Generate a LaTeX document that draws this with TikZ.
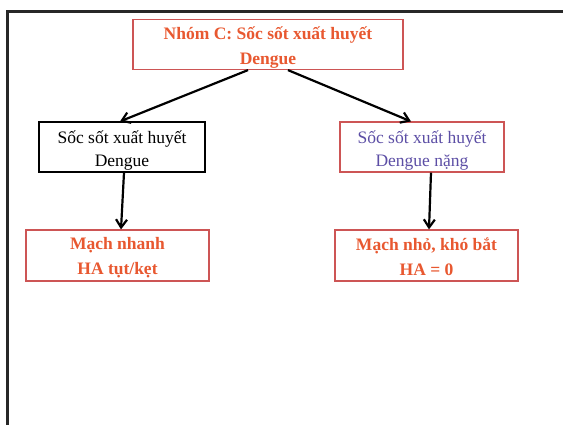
\documentclass[tikz,border=0pt]{standalone}
\usepackage{fontspec}
\setmainfont{Liberation Serif}
\usetikzlibrary{arrows.meta}
\definecolor{titlered}{RGB}{232,88,48}
\definecolor{boxred}{RGB}{205,85,85}
\definecolor{violet2}{RGB}{92,78,165}
\definecolor{framegray}{RGB}{40,40,40}
% \lift{h}: extra head room on the first line, pushing the lines down by h/2
\newcommand{\lift}[1]{\rule{0pt}{#1}}
\tikzset{
  box/.style={draw=boxred, line width=1.2pt, minimum height=50pt, align=center, inner sep=1pt},
  boldtext/.style={text=titlered, font=\fontsize{17.5}{25}\selectfont\bfseries},
  plaintext/.style={font=\fontsize{17.5}{23}\selectfont},
  link/.style={-{Straight Barb[length=8pt,width=11pt,line width=2.2pt]}, line width=2.2pt, black}
}
\begin{document}
\begin{tikzpicture}[x=1pt,y=-1pt]
\useasboundingbox (0,0) rectangle (563,424);
% outer frame, only its left and top edges fall inside the page
\draw[framegray, line width=3pt] (7,430) -- (7,11) -- (570,11);

\node[box, boldtext, minimum width=270pt] (top) at (268,44.5) {\lift{19pt}Nhóm C: Sốc sốt xuất huyết\\Dengue};
\node[box, draw=black, plaintext, minimum width=166pt] (mild) at (122,147) {\lift{20pt}Sốc sốt xuất huyết\\Dengue};
\node[box, plaintext, text=violet2, minimum width=164pt] (severe) at (422,147) {\lift{20pt}Sốc sốt xuất huyết\\Dengue nặng};
\node[box, boldtext, minimum width=183pt, minimum height=51pt] (fast) at (117.5,255.5) {\lift{16pt}Mạch nhanh\\HA tụt/kẹt};
\node[box, boldtext, minimum width=183pt, minimum height=51pt] (weak) at (426.5,255.5) {\lift{16pt}Mạch nhỏ, khó bắt\\HA = 0};

\draw[link] (top.south -| 248,0) -- (mild.north -| 120,0);
\draw[link] (top.south -| 288,0) -- (severe.north -| 411,0);
\draw[link] (mild.south -| 124,0) -- (fast.north -| 121,0);
\draw[link] (severe.south -| 431,0) -- (weak.north -| 429,0);
\end{tikzpicture}
\end{document}
